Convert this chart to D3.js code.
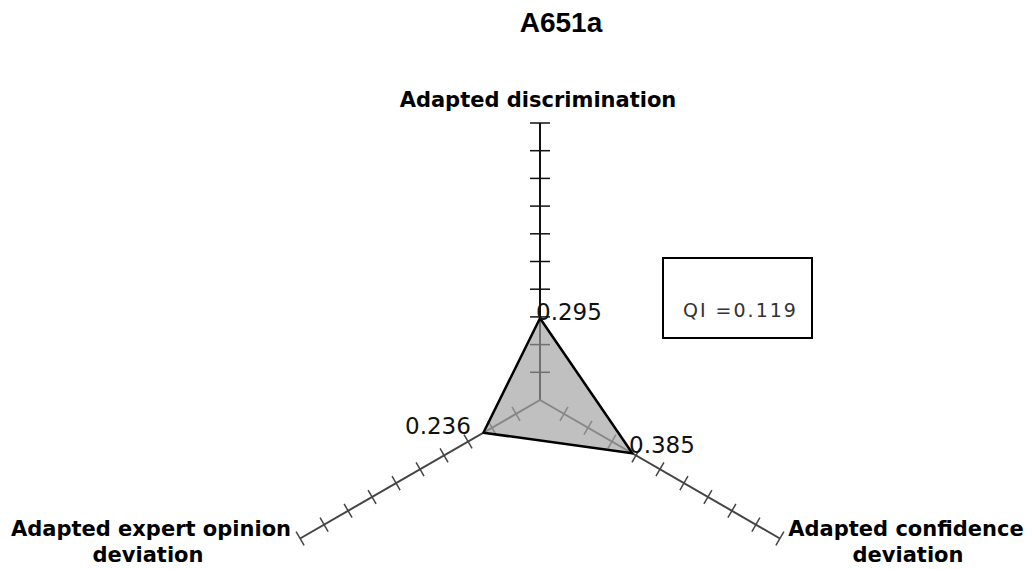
<!DOCTYPE html>
<html>
<head>
<meta charset="utf-8">
<script src="https://cdn.jsdelivr.net/npm/d3@7"></script>
<style>
  body { margin: 0; background: #fff; }
  svg { font-family: "DejaVu Sans", Arial, sans-serif; }
</style>
</head>
<body>
<svg width="1032" height="569"></svg>
<script>
// data
var axes = ["Adapted discrimination", "Adapted confidence deviation", "Adapted expert opinion deviation"];
var values = [0.295, 0.385, 0.236];
var valueLabels = ["0.295", "0.385", "0.236"];
var tickValues = [0.1, 0.2, 0.3, 0.4, 0.5, 0.6, 0.7, 0.8, 0.9, 1.0];
var title = "A651a";
var qiLabel = "QI =0.119";

var svg = d3.select("svg"),
    cx = 540, cy = 400,
    radius = 277;

var r = d3.scaleLinear().domain([0, 1]).range([0, radius]);
// angles in degrees, measured from pointing up, clockwise
var angle = d3.scaleOrdinal().domain(axes).range([0, 120, 240]);

function pt(a, v) {
    var t = angle(a) * Math.PI / 180;
    return [cx + Math.sin(t) * r(v), cy - Math.cos(t) * r(v)];
}

svg.append("text")
    .attr("x", 561).attr("y", 32)
    .attr("text-anchor", "middle")
    .attr("font-family", "'Liberation Sans', Arial, sans-serif")
    .attr("font-size", 28).attr("font-weight", "bold")
    .text(title);

// polygon
svg.append("path")
    .datum(axes.map(function (a, i) { return pt(a, values[i]); }))
    .attr("d", function (d) { return "M" + d.join("L") + "Z"; })
    .attr("fill", "#c0c0c0")
    .attr("stroke", "none");

// axes
var g = svg.selectAll(".axis")
    .data(axes)
    .enter().append("g")
    .attr("class", "axis");

g.append("line")
    .attr("x1", cx).attr("y1", cy)
    .attr("x2", function (d) { return pt(d, 1)[0]; })
    .attr("y2", function (d) { return pt(d, 1)[1]; })
    .attr("stroke", function (d, i) { return i == 0 ? "#111" : "#444"; })
    .attr("stroke-width", 2);

g.selectAll(".tick")
    .data(function (d) { return tickValues.map(function (v) { return {a: d, v: v}; }); })
    .enter().append("line")
    .attr("class", "tick")
    .each(function (d) {
        var p = pt(d.a, d.v),
            t = angle(d.a) * Math.PI / 180,
            h = angle(d.a) == 0 ? 10 : 8,
            nx = Math.cos(t) * h, ny = Math.sin(t) * h;
        d3.select(this)
            .attr("x1", p[0] - nx).attr("y1", p[1] - ny)
            .attr("x2", p[0] + nx).attr("y2", p[1] + ny);
    })
    .attr("stroke", function (d) { return angle(d.a) == 0 ? "#111" : "#444"; })
    .attr("stroke-width", 1.5);

// parts of axes inside polygon look lighter
svg.append("path")
    .datum(axes.map(function (a, i) { return pt(a, values[i]); }))
    .attr("d", function (d) { return "M" + d.join("L") + "Z"; })
    .attr("fill", "#c0c0c0")
    .attr("fill-opacity", 0.55)
    .attr("stroke", "#000")
    .attr("stroke-width", 2.5)
    .attr("stroke-linejoin", "round");

// value labels
var labelPos = [[536, 320], [629, 453], [405, 434]];
svg.selectAll(".vlabel")
    .data(valueLabels)
    .enter().append("text")
    .attr("class", "vlabel")
    .attr("x", function (d, i) { return labelPos[i][0]; })
    .attr("y", function (d, i) { return labelPos[i][1]; })
    .attr("font-size", 23)
    .attr("fill", "#111")
    .text(function (d) { return d; });

// axis titles
svg.append("text")
    .attr("x", 538).attr("y", 107)
    .attr("text-anchor", "middle")
    .attr("font-size", 21).attr("font-weight", "bold")
    .text(axes[0]);

var right = svg.append("text")
    .attr("font-size", 21).attr("font-weight", "bold")
    .attr("text-anchor", "middle");
right.append("tspan").attr("x", 906).attr("y", 536).text("Adapted confidence");
right.append("tspan").attr("x", 908).attr("y", 562).text("deviation");

var left = svg.append("text")
    .attr("font-size", 21).attr("font-weight", "bold")
    .attr("text-anchor", "middle");
left.append("tspan").attr("x", 151).attr("y", 536).text("Adapted expert opinion");
left.append("tspan").attr("x", 148).attr("y", 562).text("deviation");

// QI box
svg.append("rect")
    .attr("x", 663).attr("y", 258)
    .attr("width", 149).attr("height", 80)
    .attr("fill", "none")
    .attr("stroke", "#000")
    .attr("stroke-width", 2);

svg.append("text")
    .attr("x", 683).attr("y", 317)
    .attr("font-size", 19)
    .attr("letter-spacing", 2)
    .attr("fill", "#333")
    .text(qiLabel);
</script>
</body>
</html>
